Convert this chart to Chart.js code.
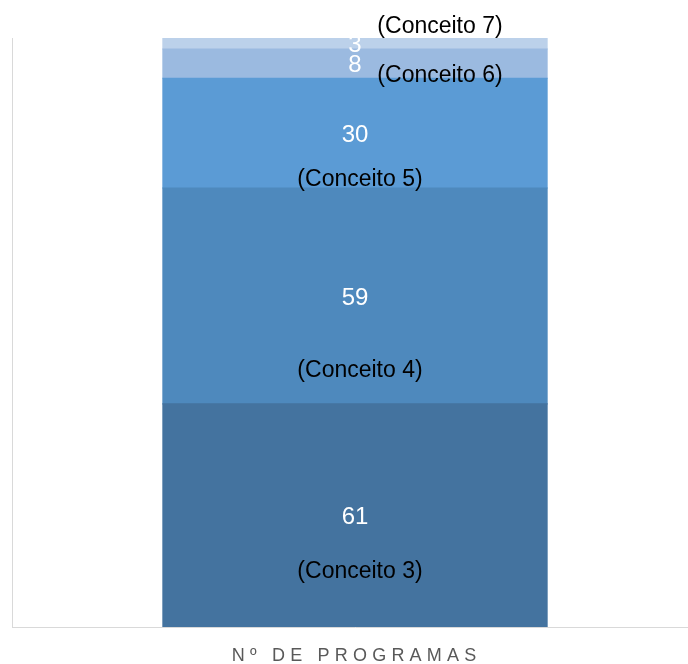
<!DOCTYPE html>
<html><head><meta charset="utf-8">
<script src="https://cdn.jsdelivr.net/npm/chart.js@4/dist/chart.umd.min.js"></script>
<style>html,body{margin:0;padding:0;background:#fff;overflow:hidden;width:688px;height:664px}#wrap{width:698px;height:664px;position:relative}canvas{display:block}</style>
</head><body><div id="wrap"><canvas id="c" width="698" height="664"></canvas></div>
<script>
const categories = ['Nº DE PROGRAMAS'];
const seriesNames = ['(Conceito 3)', '(Conceito 4)', '(Conceito 5)', '(Conceito 6)', '(Conceito 7)'];
const seriesValues = [61, 59, 30, 8, 3];
const seriesColors = ['#44739f', '#4e89bd', '#5b9bd5', '#9bbae0', '#bcd1ea'];

const FONT = '"Liberation Sans", Arial, sans-serif';
// per-series concept label placement relative to bar center / segment center (cap-center)
const conceptPlacement = [
  {dx: 5, dy: 54.5},
  {dx: 5, dy: 72.5},
  {dx: 5, dy: 44.5},
  {dx: 85, dy: 10},
  {dx: 85, dy: -18.5}
];

const labelPlugin = {
  id: 'labels',
  afterDatasetsDraw(chart) {
    const ctx = chart.ctx;
    ctx.save();
    ctx.textAlign = 'center';
    ctx.textBaseline = 'alphabetic';
    chart.data.datasets.forEach((ds, i) => {
      const meta = chart.getDatasetMeta(i);
      meta.data.forEach((bar) => {
        const p = bar.getProps(['x', 'y', 'base'], true);
        const cy = (p.y + p.base) / 2;
        ctx.font = '24px ' + FONT;
        ctx.fillStyle = '#ffffff';
        ctx.fillText(String(ds.data[0]), p.x, cy + 0.358 * 24);
        const pl = conceptPlacement[i];
        ctx.font = '23px ' + FONT;
        ctx.fillStyle = '#000000';
        ctx.fillText(ds.label, p.x + pl.dx, cy + pl.dy + 0.358 * 23);
      });
    });
    const xs = chart.scales.x;
    ctx.font = '18px ' + FONT;
    ctx.fillStyle = '#595959';
    const sp = 5.2;
    try { ctx.letterSpacing = sp + 'px'; } catch (e) {}
    ctx.fillText(categories[0], xs.getPixelForValue(0) + sp / 2 - 1, 661);
    ctx.restore();
  }
};

new Chart(document.getElementById('c'), {
  type: 'bar',
  data: {
    labels: categories,
    datasets: seriesValues.map((v, i) => ({
      label: seriesNames[i],
      data: [v],
      backgroundColor: seriesColors[i],
      borderWidth: 0,
      inflateAmount: 0.6,
      barPercentage: 0.56,
      categoryPercentage: 1.0
    }))
  },
  options: {
    responsive: false,
    animation: false,
    devicePixelRatio: 1,
    layout: {padding: {top: 38, left: 12, right: 0, bottom: 37}},
    plugins: {legend: {display: false}, tooltip: {enabled: false}},
    scales: {
      x: {
        stacked: true,
        grid: {display: false, drawTicks: false},
        border: {display: true, color: '#d9d9d9', width: 1},
        ticks: {display: false}
      },
      y: {
        stacked: true,
        min: 0,
        max: 161,
        display: true,
        grid: {display: false, drawTicks: false},
        border: {display: true, color: '#d9d9d9', width: 1},
        ticks: {display: false}
      }
    }
  },
  plugins: [labelPlugin]
});
</script>
</body></html>
